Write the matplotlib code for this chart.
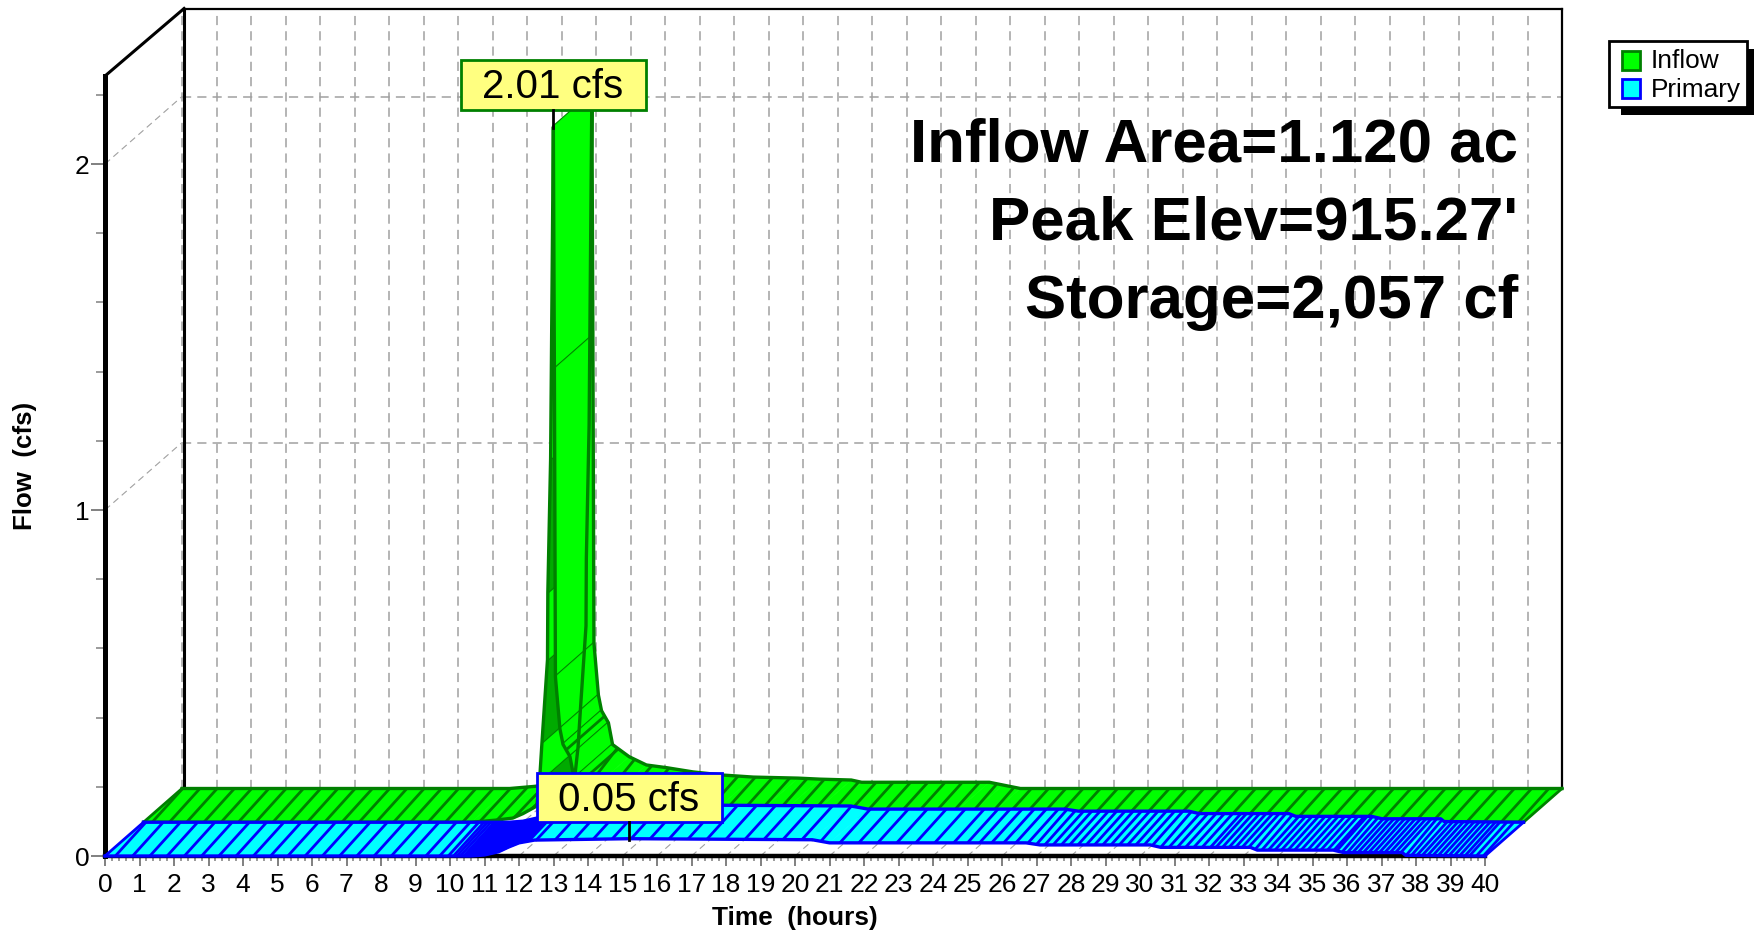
import numpy as np
import matplotlib
matplotlib.use("Agg")
import matplotlib.pyplot as plt
from matplotlib.patches import Polygon, Rectangle

plt.rcParams['font.family'] = ['Liberation Sans', 'DejaVu Sans']

# hydrograph values
inflow_t = [0, 9.5, 10.2, 10.7, 11.0, 11.4, 11.48, 11.55, 11.71, 11.72, 11.8, 11.88, 11.91, 11.94, 12.07, 12.16,
            12.36, 12.48, 12.96, 13.46, 14.06, 14.81, 15.66, 16.56, 17.86, 18.5, 19.4, 19.7, 23.4, 23.8, 24.3, 40]
inflow_q = [0, 0, 0.006, 0.012, 0.025, 0.047, 0.12, 0.231, 0.47, 0.665, 1.05, 2.01, 1.31, 0.42, 0.27, 0.225,
            0.19, 0.127, 0.092, 0.068, 0.06, 0.048, 0.039, 0.033, 0.03, 0.027, 0.0245, 0.018, 0.018, 0.01, 0, 0]
primary_t = [0, 10.6, 11.0, 11.4, 11.7, 12.0, 12.45, 15.2, 20.5, 21.0, 26.7, 27.1, 30.3, 30.6,
             33.2, 33.4, 35.6, 35.9, 37.6, 37.7, 40]
primary_q = [0, 0, 0.003, 0.012, 0.026, 0.038, 0.046, 0.05, 0.047, 0.038, 0.038, 0.032, 0.032, 0.025,
             0.025, 0.017, 0.017, 0.01, 0.01, 0.002, 0]

x_ticks = list(range(41))
y_ticks = [0, 1, 2]
info_lines = ["Inflow Area=1.120 ac", "Peak Elev=915.27'", "Storage=2,057 cf"]

# oblique projection, depth 0 = front axis, depth 1 = back wall
DT = 77 / 34.5
DQ = 67.5 / 346
SLANT = 0.23  # hatch lines lean a bit steeper than the depth direction
YTOP = 780 / 346
GREEN = '#00FF00'
DARK_GREEN = '#00AA00'
EDGE_GREEN = '#008000'
CYAN = '#00FFFF'
BLUE = '#0000FF'
GRID = '#A0A0A0'
TICK = '#808080'
DASH = (0, (6, 4))


def oblique(t, q, depth):
    return np.asarray(t) + depth * DT, np.asarray(q) + depth * DQ


def hatch_line(ax, t, q, h, d0, d1, slant, edge, z):
    h1 = h - slant
    x = [h + d0 * DT, h1 + d1 * DT]
    y = [np.interp(h, t, q) + d0 * DQ, np.interp(h1, t, q) + d1 * DQ]
    ax.plot(x, y, color=edge, lw=2.0, zorder=z, clip_on=False, solid_capstyle='butt')


def ribbon(ax, t, q, d0, d1, face, edge, hatch_t, straight_t, z, dark=()):
    x0, y0 = oblique(t, q, d0)
    x1, y1 = oblique(t, q, d1)
    for i in range(len(t) - 1):
        pts = [(x0[i], y0[i]), (x0[i + 1], y0[i + 1]), (x1[i + 1], y1[i + 1]), (x1[i], y1[i])]
        col = DARK_GREEN if i in dark else face
        ax.add_patch(Polygon(pts, closed=True, facecolor=col, edgecolor=col, lw=0.4, zorder=z, clip_on=False))
        for h in straight_t:
            if t[i] < h <= t[i + 1]:
                hatch_line(ax, t, q, h, d0, d1, 0, edge, z)
    for h in hatch_t:
        hatch_line(ax, t, q, h, d0, d1, SLANT, edge, z + 0.1)
    ax.plot(x0, y0, color=edge, lw=2.4, zorder=z + 0.2, clip_on=False)
    ax.plot(x1, y1, color=edge, lw=2.4, zorder=z + 0.2, clip_on=False)
    ax.plot([x0[0], x1[0]], [y0[0], y1[0]], color=edge, lw=2.0, zorder=z + 0.2, clip_on=False)
    ax.plot([x0[-1], x1[-1]], [y0[-1], y1[-1]], color=edge, lw=2.0, zorder=z + 0.2, clip_on=False)


fig = plt.figure(figsize=(17.54, 9.31), dpi=100, facecolor='white')
ax = fig.add_axes([105 / 1754, 75 / 931, 1380 / 1754, 780 / 931])
ax.set_xlim(0, 40)
ax.set_ylim(0, YTOP)
ax.patch.set_visible(False)

for s in ['top', 'right']:
    ax.spines[s].set_visible(False)
ax.spines['left'].set_linewidth(3.6)
ax.spines['bottom'].set_linewidth(3.2)

ax.set_xticks(x_ticks)
ax.set_xticks(np.arange(0, 40.01, 0.2), minor=True)
ax.set_yticks(y_ticks)
ax.set_yticks(np.arange(0, 2.21, 0.2), minor=True)
ax.tick_params(axis='x', which='major', length=7.2, width=1.4, color=TICK, labelsize=19, pad=5)
ax.tick_params(axis='x', which='minor', length=3.6, width=1.1, color=TICK)
ax.tick_params(axis='y', which='major', length=10, width=1.4, color=TICK, labelsize=19, pad=1)
ax.tick_params(axis='y', which='minor', length=6.5, width=1.1, color=TICK)

# back wall and floor grid
for t in x_ticks[:-1]:
    x, y = oblique([t, t], [0, YTOP], 1)
    ax.plot(x, y, color=GRID, lw=1.1, ls=DASH, zorder=1, clip_on=False)
    ax.plot([t, t + DT], [0, DQ], color=GRID, lw=0.8, ls=DASH, zorder=1, clip_on=False)
for q in [1, 2]:
    ax.plot([DT, 40 + DT], [q + DQ, q + DQ], color=GRID, lw=1.1, ls=DASH, zorder=1, clip_on=False)
    ax.plot([0, DT], [q, q + DQ], color=GRID, lw=0.8, ls=DASH, zorder=1, clip_on=False)

# frame
ax.plot([0, DT + 0.06], [YTOP, YTOP + DQ], color='black', lw=2.2, zorder=2, clip_on=False)
ax.plot([DT + 0.06, DT + 0.06], [DQ, YTOP + DQ], color='black', lw=2.2, zorder=2, clip_on=False)
ax.plot([DT + 0.06, 40 + DT], [YTOP + DQ, YTOP + DQ], color='black', lw=1.6, zorder=2, clip_on=False)
ax.plot([40 + DT, 40 + DT], [DQ, YTOP + DQ], color='black', lw=1.6, zorder=2, clip_on=False)

# ribbons
inflow_hatch = list(np.arange(0.25, 11.3, 0.5)) + list(np.arange(12.85, 40, 0.5))
inflow_spike = [11.48, 11.55, 11.71, 11.72, 11.8, 11.88, 11.91, 11.94, 12.07, 12.16, 12.25, 12.36, 12.48, 12.65]
ribbon(ax, inflow_t, inflow_q, 0.5, 1, GREEN, EDGE_GREEN, inflow_hatch, inflow_spike, 3, dark=(5, 7, 9))

primary_hatch = (list(np.arange(0.3, 9.6, 0.5)) + [9.7, 9.95, 10.1, 10.2, 10.3] + list(np.arange(10.4, 12.3, 0.04))
                 + list(np.arange(12.5, 25, 0.55)) + list(np.arange(25, 27, 0.35)) + list(np.arange(27, 32.2, 0.24))
                 + list(np.arange(32.2, 35.7, 0.19)) + list(np.arange(35.7, 39.5, 0.155)) + [39.55, 39.75, 39.95])
ribbon(ax, primary_t, primary_q, 0, 0.5, CYAN, BLUE, primary_hatch, [], 4)

# overlay in image pixels for the text and boxes
pix = fig.add_axes([0, 0, 1, 1])
pix.set_xlim(0, 1754)
pix.set_ylim(931, 0)
pix.axis('off')

pix.text(795, 918, "Time  (hours)", fontsize=18.9, fontweight='bold', ha='center', va='center')
pix.text(25, 466, "Flow  (cfs)", fontsize=18.6, fontweight='bold', rotation=90, ha='center', va='center')

for line, y in zip(info_lines, [145.5, 224, 302.5]):
    pix.text(1518, y, line, fontsize=44.6, fontweight='bold', ha='right', va='center')

# peak labels
pix.plot([553, 553], [110, 128], color='black', lw=2)
pix.plot([629, 629], [822, 840], color='black', lw=2)
pix.add_patch(Rectangle((461, 60), 185, 50, facecolor='#FFFF80', edgecolor=EDGE_GREEN, lw=2))
pix.text(553, 87, "2.01 cfs", fontsize=29, ha='center', va='center')
pix.add_patch(Rectangle((537, 773), 185, 49, facecolor='#FFFF80', edgecolor=BLUE, lw=2))
pix.text(629, 800, "0.05 cfs", fontsize=29, ha='center', va='center')

# legend
pix.add_patch(Rectangle((1621, 49), 140, 66, facecolor='black', edgecolor='none', clip_on=True))
pix.add_patch(Rectangle((1609, 41), 138, 66, facecolor='white', edgecolor='black', lw=2))
pix.add_patch(Rectangle((1622, 51), 18, 19, facecolor=GREEN, edgecolor=EDGE_GREEN, lw=2))
pix.add_patch(Rectangle((1622, 79), 18, 19, facecolor=CYAN, edgecolor=BLUE, lw=2))
pix.text(1651, 61.5, "Inflow", fontsize=18.9, ha='left', va='center')
pix.text(1651, 90.5, "Primary", fontsize=18.9, ha='left', va='center')

fig.savefig('out.png', dpi=100)
